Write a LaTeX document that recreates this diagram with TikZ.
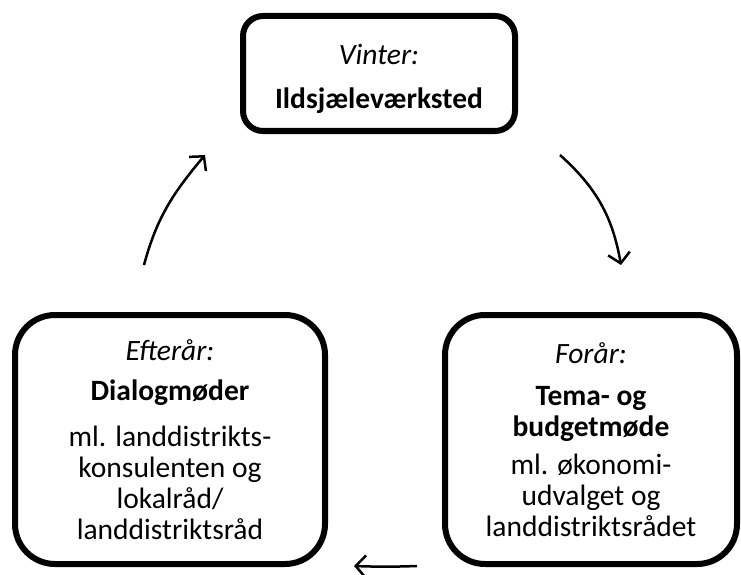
\documentclass[tikz,border=0pt]{standalone}
\usepackage{fontspec}
\setmainfont{Carlito}
\usetikzlibrary{arrows.meta,shadows}

\begin{document}
\begin{tikzpicture}[x=1pt,y=-1pt,
    font=\fontsize{29.5}{31}\selectfont,
    season/.style={rounded corners=#1,draw=black,line width=6pt,fill=white,
      align=center,inner sep=0pt,
      drop shadow={shadow xshift=2pt,shadow yshift=-2pt,opacity=0.25,fill=black}},
    cyc/.style={line width=2.5pt,-{Straight Barb[length=10pt,width=22pt]}}]
  \useasboundingbox (0,0) rectangle (741,575);
  % the three seasons
  \node[season=20pt,minimum width=272pt,minimum height=115pt] (vinter) at (379,73.5)
    {\rule{0pt}{30pt}\textit{Vinter:}\\[13pt]\textbf{Ildsjæleværksted}};
  \node[season=40pt,minimum width=310pt,minimum height=249pt] (efteraar) at (170,439.5)
    {\textit{Efterår:}\\[9pt]\textbf{Dialogmøder}\\[15pt]ml. landdistrikts-\\konsulenten og\\lokalråd/\\landdistriktsråd};
  \node[season=40pt,minimum width=292pt,minimum height=249pt] (foraar) at (591,439.5)
    {\textit{Forår:}\\[11pt]\textbf{Tema- og}\\\textbf{budgetmøde}\\[7pt]ml. økonomi-\\udvalget og\\landdistriktsrådet};
  % the cycle
  \draw[cyc] ([xshift=42pt,yshift=-21pt]vinter.south east) to[out=-42,in=100]
    ([xshift=30pt,yshift=47pt]foraar.north);
  \draw[cyc] ([xshift=-25pt,yshift=1pt]foraar.south west) to[bend left=2]
    ([xshift=26pt,yshift=1pt]efteraar.south east);
  \draw[cyc] ([xshift=-26pt,yshift=47pt]efteraar.north) to[out=75,in=230]
    ([xshift=-35pt,yshift=-21pt]vinter.south west);
\end{tikzpicture}
\end{document}
